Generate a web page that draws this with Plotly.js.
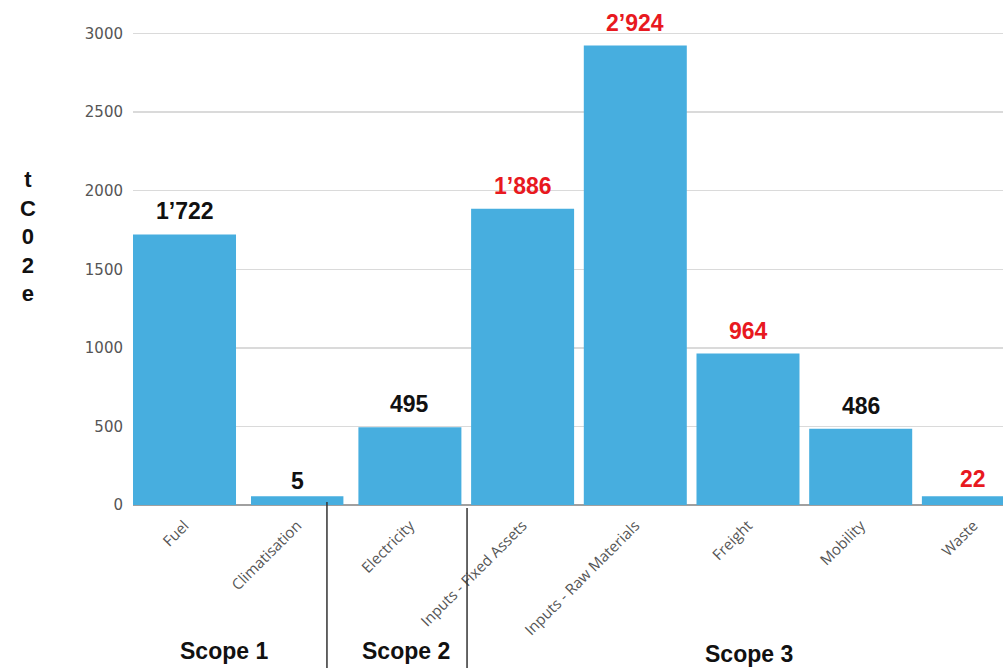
<!DOCTYPE html>
<html>
<head>
<meta charset="utf-8">
<script src="https://cdn.plot.ly/plotly-3.0.1.min.js"></script>
<style>
  html, body { margin: 0; padding: 0; overflow: hidden; background: #fff; }
  #chart { width: 1040px; height: 668px; }
</style>
</head>
<body>
<div id="chart"></div>
<script>
// ---- Data ----
const categories = ["Fuel", "Climatisation", "Electricity", "Inputs - Fixed Assets",
                    "Inputs - Raw Materials", "Freight", "Mobility", "Waste"];
const emissions = [1722, 5, 495, 1886, 2924, 964, 486, 22];          // tCO2e
const valueLabels = ["1’722", "5", "495", "1’886", "2’924", "964", "486", "22"];
const highlighted = [false, false, false, true, true, true, false, true]; // red labels
const scopeNames = ["Scope 1", "Scope 2", "Scope 3"];
const scopeCenters = [0.35, 1.965, 5.01];     // category-axis position of each scope label
const scopeDividers = [1.264, 2.507];         // category-axis position of divider lines
const yTicks = [0, 500, 1000, 1500, 2000, 2500, 3000];

// ---- Style ----
const BAR_COLOR = "#47aedf";
const RED = "#e8191f";
const MIN_VISIBLE = 55; // small values drawn with a minimum visible height

const xIdx = categories.map((_, i) => i);

const trace = {
  type: "bar",
  x: xIdx,
  y: emissions.map(v => Math.max(v, MIN_VISIBLE)),
  width: xIdx.map(i => (i === 1 ? 0.82 : 0.914)),
  marker: { color: BAR_COLOR },
  hoverinfo: "skip"
};

const annotations = [];
emissions.forEach((v, i) => {
  annotations.push({
    x: i, y: v, xref: "x", yref: "y",
    text: valueLabels[i],
    showarrow: false,
    yanchor: "bottom", yshift: 8,
    font: { family: "Liberation Sans, Arial, sans-serif", size: 23, weight: "bold",
            color: highlighted[i] ? RED : "#111" }
  });
});
scopeNames.forEach((s, i) => {
  annotations.push({
    x: scopeCenters[i], xref: "x", y: i === 2 ? -0.301 : -0.295, yref: "paper",
    text: s, showarrow: false, xanchor: "center", yanchor: "middle",
    font: { family: "Liberation Sans, Arial, sans-serif", size: 23, weight: "bold", color: "#111" }
  });
});
annotations.push({
  x: -0.116, xref: "paper", y: 0.543, yref: "paper",
  text: "t<br>C<br>0<br>2<br>e", showarrow: false,
  xanchor: "center", yanchor: "middle", align: "center",
  font: { family: "Liberation Sans, Arial, sans-serif", size: 22, weight: "bold", color: "#111" }
});

const shapes = scopeDividers.map((d, i) => ({
  type: "line", xref: "x", yref: "paper",
  x0: d, x1: d, y0: i === 0 ? 0.006 : -0.006, y1: -0.34,
  line: { color: "#333", width: 1.5 }
}));

const layout = {
  width: 1040, height: 668,
  margin: { l: 133, r: 0, t: 10, b: 163 },
  paper_bgcolor: "#fff", plot_bgcolor: "#fff",
  showlegend: false,
  xaxis: {
    range: [-0.457, 7.591],
    tickvals: xIdx, ticktext: categories,
    tickangle: -45,
    tickfont: { family: "Open Sans, sans-serif", size: 15, color: "#555" },
    showgrid: false, zeroline: false, showline: false, ticks: "",
    ticklabelstandoff: 8,
    fixedrange: true
  },
  yaxis: {
    range: [0, 3150],
    tickvals: yTicks,
    tickfont: { family: "DejaVu Sans, sans-serif", size: 15, color: "#555" },
    showgrid: true, gridcolor: "#dadada", gridwidth: 1.5,
    zeroline: true, zerolinecolor: "#a0a0a0", zerolinewidth: 1.5,
    showline: false, ticks: "",
    ticklabelstandoff: 9,
    fixedrange: true
  },
  annotations: annotations,
  shapes: shapes
};

Plotly.newPlot("chart", [trace], layout, { displayModeBar: false, staticPlot: true });
</script>
</body>
</html>
